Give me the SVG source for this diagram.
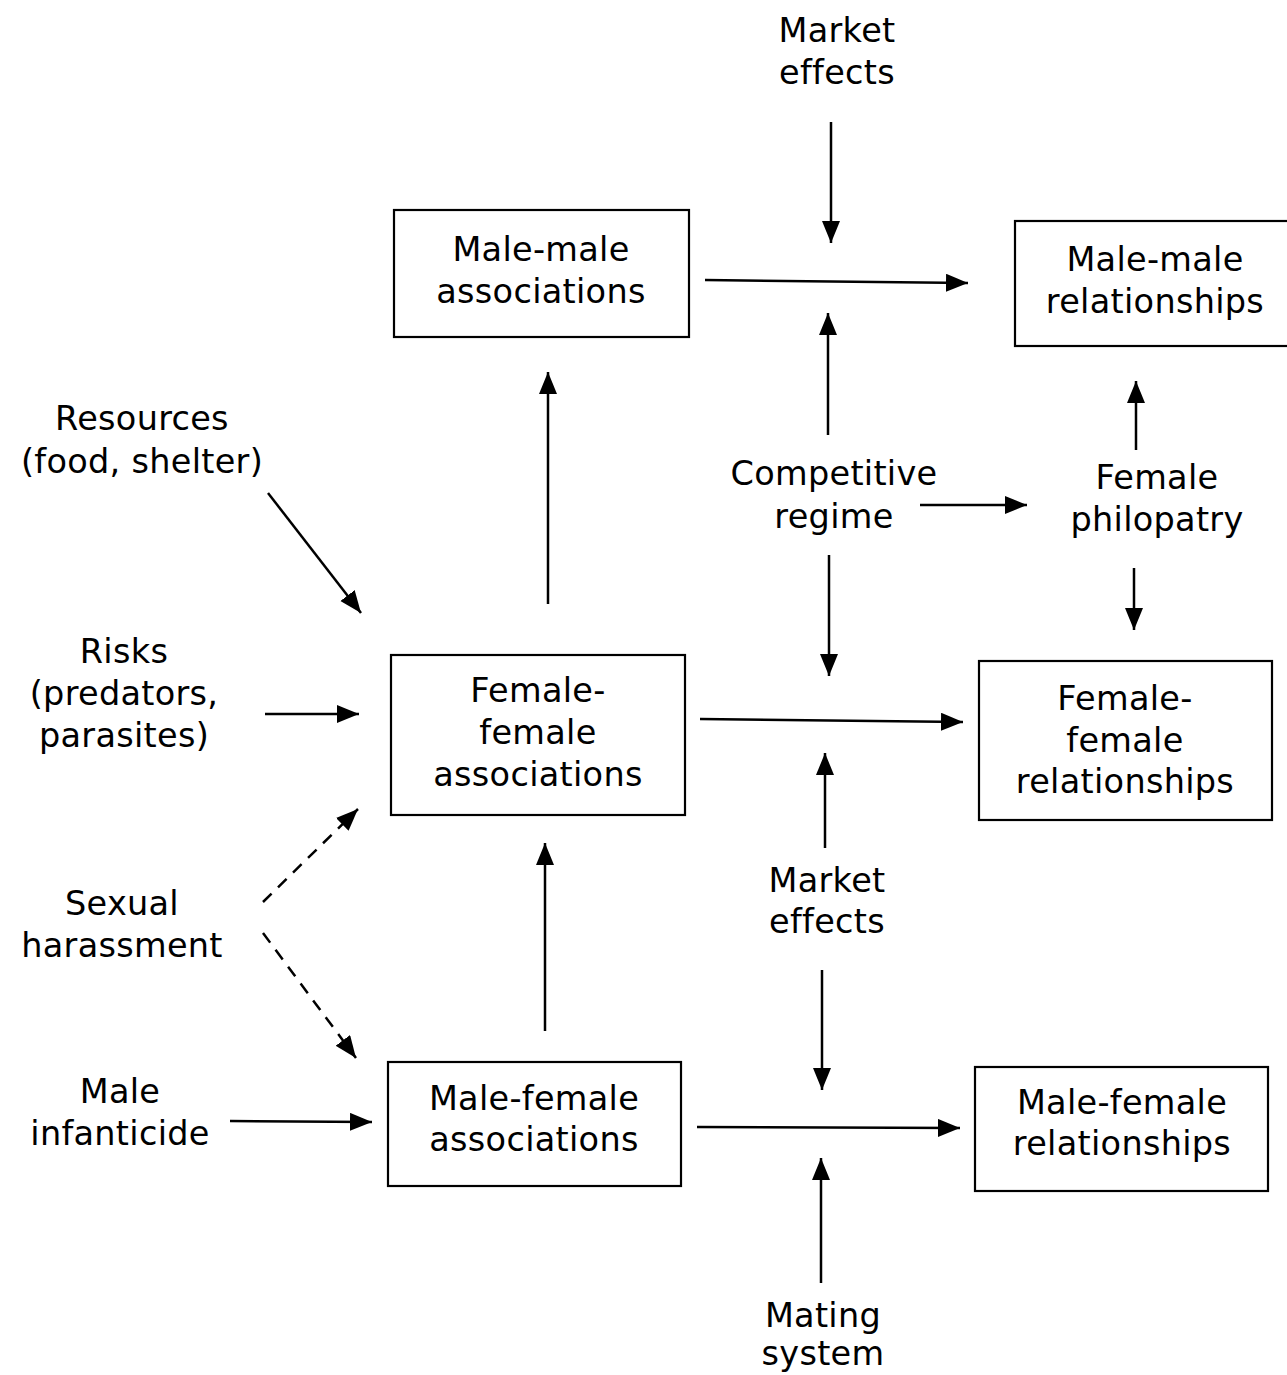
<svg xmlns="http://www.w3.org/2000/svg" width="1287" height="1375" viewBox="0 0 1287 1375">
<style>
text{font-family:"DejaVu Sans","Liberation Sans",sans-serif;font-size:33.5px;fill:#000;text-anchor:middle;letter-spacing:0.3px}
.box{fill:#fff;stroke:#000;stroke-width:2.2}
.c{stroke:#000;stroke-width:2.5;fill:none;marker-end:url(#ah)}
.d{stroke-dasharray:12 9}
</style>
<defs>
<marker id="ah" markerUnits="userSpaceOnUse" markerWidth="24" markerHeight="20" refX="22" refY="9" orient="auto">
<path d="M0,0 L22,9 L0,18 z" fill="#000"/>
</marker>
</defs>
<rect width="1287" height="1375" fill="#fff"/>
<g id="connectors">
<line class="c" x1="831" y1="122" x2="831" y2="243"/>
<line class="c" x1="705" y1="280" x2="968" y2="283"/>
<line class="c" x1="828" y1="435" x2="828" y2="313"/>
<line class="c" x1="1136" y1="450" x2="1136" y2="381"/>
<line class="c" x1="268" y1="493" x2="361" y2="613"/>
<line class="c" x1="548" y1="604" x2="548" y2="372"/>
<line class="c" x1="920" y1="505" x2="1027" y2="505"/>
<line class="c" x1="829" y1="555" x2="829" y2="676"/>
<line class="c" x1="1134" y1="568" x2="1134" y2="630"/>
<line class="c" x1="265" y1="714" x2="359" y2="714"/>
<line class="c" x1="700" y1="719" x2="963" y2="722"/>
<line class="c" x1="825" y1="848" x2="825" y2="753"/>
<line class="c d" x1="263" y1="902" x2="358" y2="809"/>
<line class="c d" x1="263" y1="933" x2="356" y2="1058"/>
<line class="c" x1="545" y1="1031" x2="545" y2="843"/>
<line class="c" x1="822" y1="970" x2="822" y2="1090"/>
<line class="c" x1="230" y1="1121" x2="372" y2="1122"/>
<line class="c" x1="697" y1="1127" x2="960" y2="1128"/>
<line class="c" x1="821" y1="1283" x2="821" y2="1158"/>
</g>
<g id="mm-assoc">
<rect class="box" x="394" y="210" width="295" height="127"/>
<text x="541" y="261">Male-male</text>
<text x="541" y="303">associations</text>
</g>
<g id="mm-rel">
<rect class="box" x="1015" y="221" width="290" height="125"/>
<text x="1155" y="271">Male-male</text>
<text x="1155" y="313">relationships</text>
</g>
<g id="ff-assoc">
<rect class="box" x="391" y="655" width="294" height="160"/>
<text x="538" y="702">Female-</text>
<text x="538" y="744">female</text>
<text x="538" y="786">associations</text>
</g>
<g id="ff-rel">
<rect class="box" x="979" y="661" width="293" height="159"/>
<text x="1125" y="710">Female-</text>
<text x="1125" y="752">female</text>
<text x="1125" y="793">relationships</text>
</g>
<g id="mf-assoc">
<rect class="box" x="388" y="1062" width="293" height="124"/>
<text x="534" y="1110">Male-female</text>
<text x="534" y="1151">associations</text>
</g>
<g id="mf-rel">
<rect class="box" x="975" y="1067" width="293" height="124"/>
<text x="1122" y="1114">Male-female</text>
<text x="1122" y="1155">relationships</text>
</g>
<g id="market-top">
<text x="837" y="42">Market</text>
<text x="837" y="84">effects</text>
</g>
<g id="resources">
<text x="142" y="430">Resources</text>
<text x="142" y="473">(food, shelter)</text>
</g>
<g id="competitive">
<text x="834" y="485">Competitive</text>
<text x="834" y="528">regime</text>
</g>
<g id="philopatry">
<text x="1157" y="489">Female</text>
<text x="1157" y="531">philopatry</text>
</g>
<g id="risks">
<text x="124" y="663">Risks</text>
<text x="124" y="705">(predators,</text>
<text x="124" y="747">parasites)</text>
</g>
<g id="market-mid">
<text x="827" y="892">Market</text>
<text x="827" y="933">effects</text>
</g>
<g id="harassment">
<text x="122" y="915">Sexual</text>
<text x="122" y="957">harassment</text>
</g>
<g id="infanticide">
<text x="120" y="1103">Male</text>
<text x="120" y="1145">infanticide</text>
</g>
<g id="mating">
<text x="823" y="1327">Mating</text>
<text x="823" y="1365">system</text>
</g>
</svg>
